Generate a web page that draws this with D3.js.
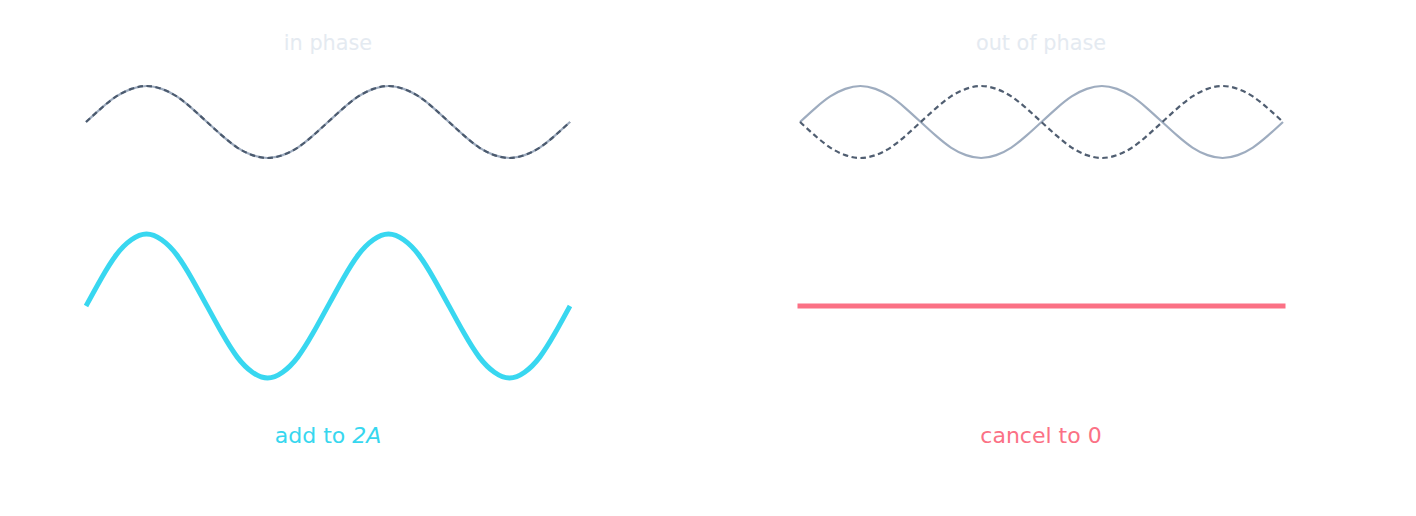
<!DOCTYPE html>
<html>
<head>
<meta charset="utf-8">
<script src="https://cdn.jsdelivr.net/npm/d3@7"></script>
<style>
  body { margin: 0; background: #fff; }
  svg { display: block; font-family: "DejaVu Sans", sans-serif; }
</style>
</head>
<body>
<svg id="chart" width="1416" height="516"></svg>
<script>
// phase position along the wave, in periods (16 samples per period)
var phase = d3.range(33).map(function (i) { return i / 16; });
// wave, one unit = amplitude A
var waveA = [0, 0.38, 0.71, 0.92, 1, 0.92, 0.71, 0.38, 0, -0.38, -0.71, -0.92, -1, -0.92, -0.71, -0.38,
             0, 0.38, 0.71, 0.92, 1, 0.92, 0.71, 0.38, 0, -0.38, -0.71, -0.92, -1, -0.92, -0.71, -0.38, 0];
var waveInverted = [0, -0.38, -0.71, -0.92, -1, -0.92, -0.71, -0.38, 0, 0.38, 0.71, 0.92, 1, 0.92, 0.71, 0.38,
                    0, -0.38, -0.71, -0.92, -1, -0.92, -0.71, -0.38, 0, 0.38, 0.71, 0.92, 1, 0.92, 0.71, 0.38, 0];
var sumInPhase = [0, 0.76, 1.42, 1.84, 2, 1.84, 1.42, 0.76, 0, -0.76, -1.42, -1.84, -2, -1.84, -1.42, -0.76,
                  0, 0.76, 1.42, 1.84, 2, 1.84, 1.42, 0.76, 0, -0.76, -1.42, -1.84, -2, -1.84, -1.42, -0.76, 0];
var sumOutOfPhase = [0, 0];
var titles = ['in phase', 'out of phase'];

var svg = d3.select('#chart');
var slateLight = '#94a3b8', slateDark = '#475569', cyan = '#22d3ee', rose = '#fb7185';

var panels = [
  { x0: 86, x1: 570, cx: 328, title: titles[0], other: waveA, sum: sumInPhase },
  { x0: 800, x1: 1283, cx: 1041, title: titles[1], other: waveInverted, sum: sumOutOfPhase }
];

panels.forEach(function (p, k) {
  var g = svg.append('g');
  var x = d3.scaleLinear().domain([0, 2]).range([p.x0, p.x1]);
  var yTop = d3.scaleLinear().domain([-1, 1]).range([158, 86]);
  var yBot = d3.scaleLinear().domain([-2, 2]).range([378, 234]);

  var lineTop = d3.line()
    .x(function (d, i) { return x(phase[i]); })
    .y(function (d) { return yTop(d); })
    .curve(d3.curveNatural);

  g.append('text')
    .attr('x', p.cx).attr('y', 50)
    .attr('text-anchor', 'middle')
    .style('font-size', '20.8px')
    .style('fill', '#e2e8f0')
    .style('opacity', 0.9)
    .text(p.title);

  g.append('path')
    .attr('d', lineTop(waveA))
    .attr('fill', 'none')
    .attr('stroke', slateLight)
    .attr('stroke-opacity', 0.9)
    .attr('stroke-width', 2.2);

  g.append('path')
    .attr('d', lineTop(p.other))
    .attr('fill', 'none')
    .attr('stroke', slateDark)
    .attr('stroke-opacity', 0.95)
    .attr('stroke-width', 2.2)
    .attr('stroke-dasharray', '5.5,3.5');

  var sumX = d3.scaleLinear().domain([0, p.sum.length - 1]).range([0, 2]);
  var lineBot = d3.line()
    .x(function (d, i) { return x(sumX(i)); })
    .y(function (d) { return yBot(d); })
    .curve(d3.curveNatural);

  g.append('path')
    .attr('d', lineBot(p.sum))
    .attr('fill', 'none')
    .attr('stroke', k === 0 ? cyan : rose)
    .attr('stroke-opacity', k === 0 ? 0.9 : 1)
    .attr('stroke-width', 5)
    .attr('stroke-linecap', k === 0 ? 'butt' : 'square');

  var label = g.append('text')
    .attr('x', p.cx).attr('y', 443)
    .attr('text-anchor', 'middle')
    .style('font-size', '22px')
    .style('fill', k === 0 ? cyan : rose)
    .style('opacity', k === 0 ? 0.9 : 1);
  if (k === 0) {
    label.append('tspan').text('add to ');
    label.append('tspan').style('font-style', 'italic').text('2A');
  } else {
    label.text('cancel to 0');
  }
});
</script>
</body>
</html>
